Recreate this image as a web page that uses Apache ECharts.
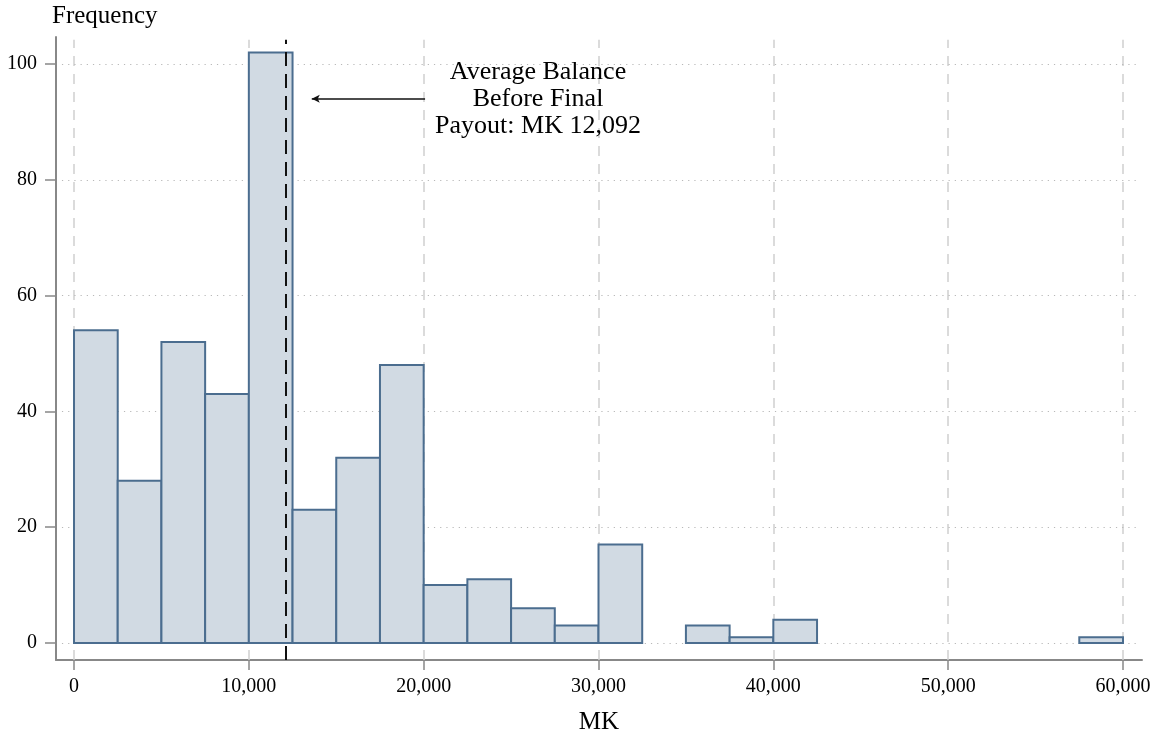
<!DOCTYPE html>
<html>
<head>
<meta charset="utf-8">
<script src="https://cdn.jsdelivr.net/npm/echarts@6/dist/echarts.min.js"></script>
<style>html,body{margin:0;padding:0;background:#fff}#c{width:1154px;height:734px}</style>
</head>
<body>
<div id="c"></div>
<script>
// ---- data ----
const binStarts = [0,2500,5000,7500,10000,12500,15000,17500,20000,22500,25000,27500,30000,32500,35000,37500,40000,42500,45000,47500,50000,52500,55000,57500];
const binWidth = 2500;
const frequencies = [54,28,52,43,102,23,32,48,10,11,6,3,17,0,3,1,4,0,0,0,0,0,0,1];
const xTicks = [0,10000,20000,30000,40000,50000,60000];
const yTicks = [0,20,40,60,80,100];
const meanBalance = 12092;
const annotationLines = ['Average Balance','Before Final','Payout: MK 12,092'];
const arrowFrom = [20080, 94];
const arrowTo = [13600, 94];
const annotationAt = [26540, 94];

const X_MIN = -1030, X_MAX = 61087, Y_MIN = -2.94, Y_MAX = 104.66;
const FONT = 'Liberation Serif';

const bars = binStarts.map((s,i)=>[s, s+binWidth, frequencies[i]]).filter(d=>d[2]>0);

const chart = echarts.init(document.getElementById('c'), null, {renderer:'canvas'});
const fmt = v => v.toLocaleString('en-US');

const option = {
  backgroundColor:'#ffffff',
  animation:false,
  grid:{left:56,right:12,top:37,bottom:74,containLabel:false,outerBoundsMode:'none'},
  xAxis:{
    type:'value', min:X_MIN, max:X_MAX,
    name:'MK', nameLocation:'middle', nameGap:50,
    nameTextStyle:{fontFamily:FONT,fontSize:25,color:'#000'},
    axisLine:{show:true,onZero:false,lineStyle:{color:'#888',width:2}},
    axisTick:{show:true,length:10,customValues:xTicks,lineStyle:{color:'#888',width:1.5}},
    axisLabel:{customValues:xTicks,formatter:fmt,fontFamily:FONT,fontSize:20,color:'#000',margin:17},
    splitLine:{show:false}
  },
  yAxis:{
    type:'value', min:Y_MIN, max:Y_MAX,
    name:'Frequency', nameLocation:'end', nameGap:8,
    nameTextStyle:{fontFamily:FONT,fontSize:25,color:'#000',align:'left',padding:[0,0,0,-4]},
    axisLine:{show:true,onZero:false,lineStyle:{color:'#888',width:2}},
    axisTick:{show:true,length:11,customValues:yTicks,lineStyle:{color:'#888',width:1.5}},
    axisLabel:{customValues:yTicks,fontFamily:FONT,fontSize:20,color:'#000',margin:19},
    splitLine:{show:false}
  },
  series:[
    { // grid lines
      type:'line', data:[], silent:true, z:1,
      markLine:{
        silent:true, symbol:['none','none'], label:{show:false}, z:1,
        data:[
          ...xTicks.map(t=>[{coord:[t,Y_MIN],lineStyle:{color:'#d0d0d0',width:1.5,type:[10,8]}},{coord:[t,104.2]}]),
          ...yTicks.map(t=>[{coord:[-690,t],lineStyle:{color:'#b8b8b8',width:1.2,type:[1.2,5]}},{coord:[60750,t]}])
        ]
      }
    },
    {
      type:'custom',
      data:bars,
      renderItem:(params,api)=>{
        const p0 = api.coord([api.value(0), api.value(2)]);
        const p1 = api.coord([api.value(1), 0]);
        return {type:'rect', shape:{x:p0[0], y:p0[1], width:p1[0]-p0[0], height:p1[1]-p0[1]},
          style:{fill:'#d1dae3', stroke:'#4b6d8f', lineWidth:2}};
      },
      encode:{x:[0,1],y:2},
      z:3
    },
    { // mean line and arrow
      type:'line', data:[], silent:true, z:6,
      markLine:{
        silent:true, label:{show:false}, z:6,
        data:[
          [{coord:[meanBalance,Y_MIN],symbol:'none',lineStyle:{color:'#111',width:2,type:[14,8]}},{coord:[meanBalance,104.2],symbol:'none'}],
          [{coord:arrowFrom,symbol:'none',lineStyle:{color:'#111',width:1.6,type:'solid'}},{coord:arrowTo,symbol:'arrow',symbolSize:[6,8]}]
        ]
      }
    },
    {
      type:'scatter', symbolSize:0, silent:true, z:7,
      itemStyle:{opacity:1},
      data:[annotationAt],
      label:{show:true,position:'inside',formatter:annotationLines.join('\n'),
        fontFamily:FONT,fontSize:26,lineHeight:27,color:'#000',textBorderWidth:0,opacity:1,
        align:'center',verticalAlign:'middle'}
    }
  ]
};
chart.setOption(option);
</script>
</body>
</html>
